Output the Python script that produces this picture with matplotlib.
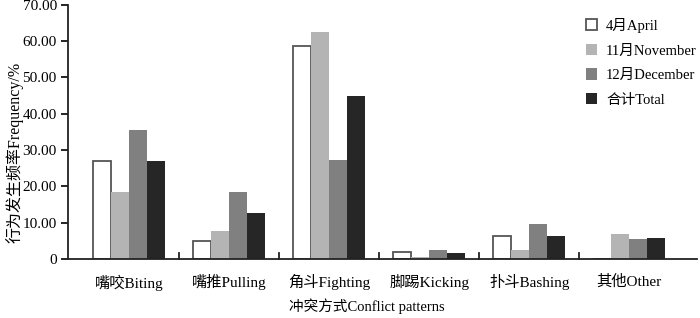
import matplotlib
matplotlib.use("Agg")
import matplotlib.pyplot as plt
import numpy as np

categories = ["嘴咬Biting", "嘴推Pulling", "角斗Fighting", "脚踢Kicking", "扑斗Bashing", "其他Other"]
april = [27.0, 5.0, 58.7, 2.0, 6.3, 0.0]
november = [18.5, 7.8, 62.4, 0.7, 2.6, 6.9]
december = [35.6, 18.5, 27.3, 2.4, 9.7, 5.5]
total = [27.1, 12.8, 44.8, 1.7, 6.4, 5.8]
series_names = ["4月April", "11月November", "12月December", "合计Total"]
yticks = [0, 10, 20, 30, 40, 50, 60, 70]
ytick_labels = ["0", "10.00", "20.00", "30.00", "40.00", "50.00", "60.00", "70.00"]

plt.rcParams['font.family'] = ['Liberation Serif', 'Noto Sans CJK SC']

fig = plt.figure(figsize=(7, 3.18), dpi=100)
ax = fig.add_axes([0.097, 0.185, 0.899, 0.8])

x = np.arange(len(categories))
w = 0.18
offs = np.array([-1.5, -0.5, 0.5, 1.5]) * w
ax.bar(x + offs[0], april, w, color="white", edgecolor="#555555", linewidth=1.3, label=series_names[0])
ax.bar(x + offs[1], november, w, color="#b4b4b4", label=series_names[1])
ax.bar(x + offs[2], december, w, color="#808080", label=series_names[2])
ax.bar(x + offs[3], total, w, color="#262626", label=series_names[3])

ax.set_xlim(-0.61, 5.68)
ax.set_ylim(0, 70)
ax.set_yticks(yticks)
ax.set_yticklabels(ytick_labels, fontsize=11)
ax.set_xticks(x)
ax.set_xticklabels(categories, fontsize=11)
ax.tick_params(axis='x', length=0, pad=11)
ax.tick_params(axis='y', direction='out', length=5, width=1.2, pad=3)
for b in np.arange(0.5, 5.0, 1.0):
    ax.plot([b, b], [0, 1.6], color="#222222", lw=1.3, clip_on=False)

for s in ["top", "right"]:
    ax.spines[s].set_visible(False)
for s in ["left", "bottom"]:
    ax.spines[s].set_linewidth(1.3)
    ax.spines[s].set_color("#222222")

ax.set_ylabel("行为发生频率Frequency/%", fontsize=11.5)
ax.yaxis.set_label_coords(-0.071, 0.42)
ax.set_xlabel("冲突方式Conflict patterns", fontsize=10.5)
ax.xaxis.set_label_coords(0.475, -0.155)

leg = ax.legend(loc="upper left", bbox_to_anchor=(0.802, 1.0), frameon=False, fontsize=10.5,
                handlelength=0.8, handleheight=0.8, handletextpad=0.6, labelspacing=0.75)

fig.savefig("out.png", dpi=100)
